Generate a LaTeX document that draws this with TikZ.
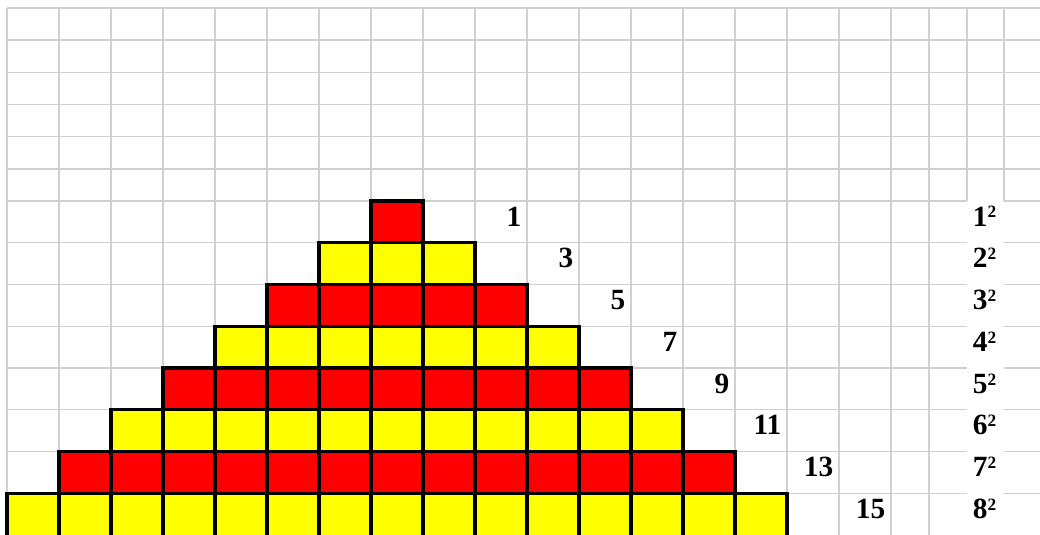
\documentclass[tikz,border=0pt]{standalone}
\usepackage{fontspec}
\setmainfont{Liberation Serif}
\definecolor{gridgray}{HTML}{D0D0D0}
\definecolor{sqred}{HTML}{FF0000}
\definecolor{sqyellow}{HTML}{FFFF00}
\begin{document}
\begin{tikzpicture}[x=0.75pt,y=-0.75pt,
  gridline/.style={draw=gridgray,line width=1.05pt},
  sqbox/.style={draw=black,line width=2.3pt},
  oddnum/.style={anchor=base east,inner sep=0pt,font=\fontsize{22}{22}\selectfont\bfseries},
  sqlabel/.style={anchor=base,inner sep=0pt,font=\fontsize{22}{22}\selectfont\bfseries}]
\useasboundingbox (0,0) rectangle (1040,535);
\fill[white] (0,0) rectangle (1040,535);
% grid
\foreach \x in {7,59,...,891,929} \draw[gridline] (\x,8) -- (\x,535);
\foreach \x in {967,1004} \draw[gridline] (\x,8) -- (\x,201);
\foreach \y in {8,40.17,72.33,104.5,136.67,168.83} \draw[gridline] (7,\y) -- (1040,\y);
\foreach \k in {0,...,7} {
  \pgfmathsetmacro\yy{201+41.75*\k}
  \draw[gridline] (7,\yy) -- (967,\yy) (1004,\yy) -- (1040,\yy);
}
% pyramid
\foreach \k in {1,...,8} {
  \pgfmathtruncatemacro\a{8-\k}
  \pgfmathtruncatemacro\b{6+\k}
  \pgfmathsetmacro\yt{201+41.75*(\k-1)}
  \pgfmathtruncatemacro\odd{mod(\k,2)}
  \ifnum\odd=1 \def\cc{sqred}\else\def\cc{sqyellow}\fi
  \ifnum\k=8 \def\hh{46}\else\def\hh{41.75}\fi
  \foreach \j in {\a,...,\b} \draw[sqbox,fill=\cc] ({7+52*\j},\yt) rectangle ++(52,\hh);
}
% labels
\foreach \k in {1,...,8} {
  \pgfmathsetmacro\yb{201+41.75*(\k-1)+25}
  \pgfmathsetmacro\xr{7+52*(9+\k)-5.5}
  \node[oddnum] (n\k) at (\xr,\yb) {\the\numexpr2*\k-1\relax};
  \node[sqlabel] (s\k) at (984.5,\yb) {\k\raisebox{6pt}{\fontsize{13}{13}\selectfont 2}};
}
\end{tikzpicture}
\end{document}
